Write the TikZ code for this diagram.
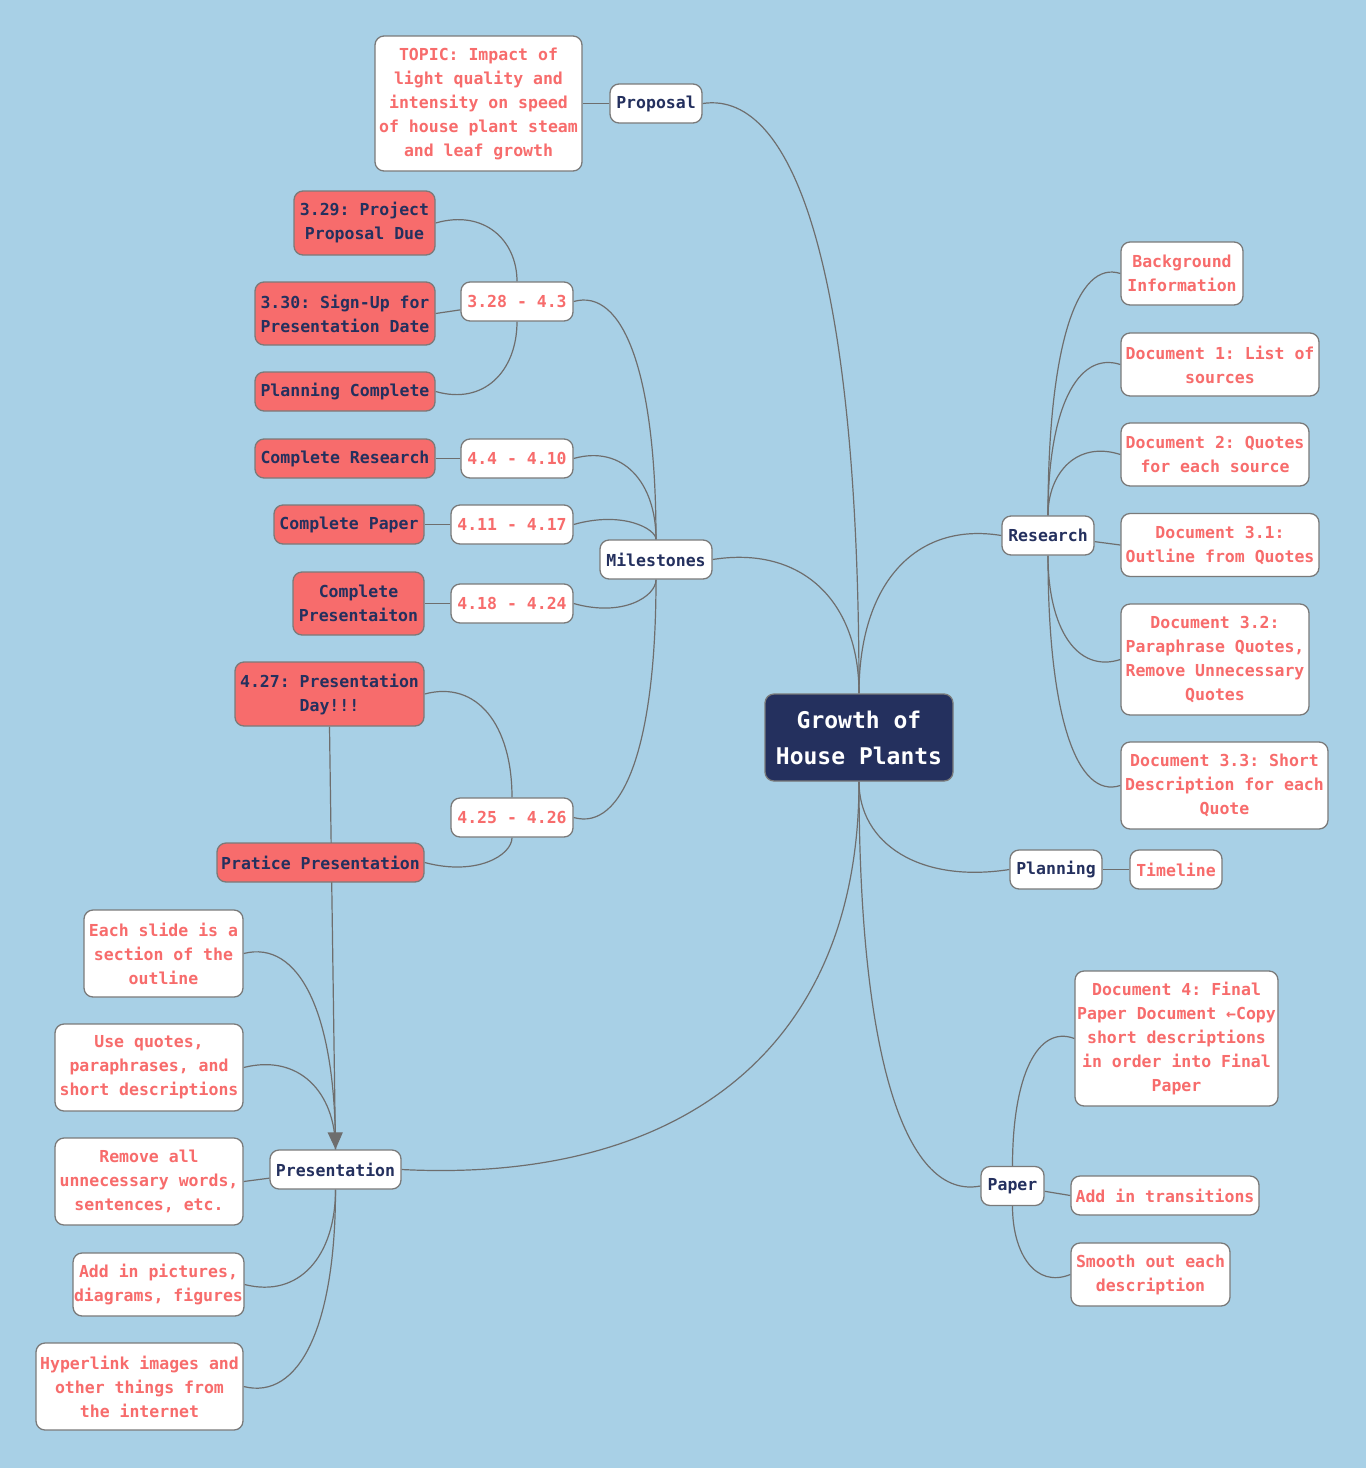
\documentclass[tikz,border=0pt]{standalone}
\usepackage{fontspec}
\setmonofont{DejaVu Sans Mono}
\usetikzlibrary{calc,arrows.meta,backgrounds}
\definecolor{bgc}{HTML}{A8D0E6}
\definecolor{redc}{HTML}{F76C6C}
\definecolor{navy}{HTML}{24305E}
\definecolor{bord}{HTML}{7A7A7A}
\definecolor{lnc}{HTML}{6E6E6E}
\tikzset{
  box/.style={draw=bord, line width=1.3pt, rounded corners=9pt, align=center, inner sep=1pt,
    font=\ttfamily\bfseries\fontsize{16.5}{24}\selectfont},
  wbox/.style={box, fill=white, text=redc},
  lbox/.style={box, fill=white, text=navy},
  rbox/.style={box, fill=redc, text=navy},
  conn/.style={draw=lnc, line width=1.2pt},
  sz/.style 2 args={minimum width=#1pt, minimum height=#2pt}
}
\newcommand\curv[2]{\draw[conn] let \p1=(#1), \p2=(#2), \n1={sign(\y2-\y1)} in
  (\p1) .. controls (\x1,{\y1+0.7*(\y2-\y1)}) and ({\x2+0.6*(\x1-\x2)},{\y2+14pt*\n1}) .. (\p2);}
\begin{document}
\begin{tikzpicture}[x=1pt,y=-1pt]
\useasboundingbox (0,0) rectangle (1366,1468);
% central
\node[box, fill=navy, text=white, font=\ttfamily\bfseries\fontsize{23}{36}\selectfont, sz={188}{87}] (c) at (859,737.5) {Growth of\\House Plants};
% proposal
\node[lbox, sz={92}{39}] (prop) at (656,103.5) {Proposal};
\node[wbox, sz={207}{135}] (topic) at (478.5,103.5) {TOPIC: Impact of\\light quality and\\intensity on speed\\of house plant steam\\and leaf growth};
% milestones
\node[lbox, sz={112}{39}] (ms) at (656,559.5) {Milestones};
\node[wbox, sz={112}{39}] (d1) at (517,301.5) {3.28 - 4.3};
\node[rbox, sz={141}{64}] (p329) at (364.5,223) {3.29: Project\\Proposal Due};
\node[rbox, sz={180}{63}] (p330) at (345,313.5) {3.30: Sign-Up for\\Presentation Date};
\node[rbox, sz={180}{39}] (pc) at (345,391.5) {Planning Complete};
\node[wbox, sz={112}{39}] (d2) at (517,458.5) {4.4 - 4.10};
\node[rbox, sz={180}{39}] (cr) at (345,458.5) {Complete Research};
\node[wbox, sz={122}{39}] (d3) at (512,524.5) {4.11 - 4.17};
\node[rbox, sz={150}{39}] (cp) at (349,524.5) {Complete Paper};
\node[wbox, sz={122}{39}] (d4) at (512,603.5) {4.18 - 4.24};
\node[rbox, sz={131}{63}] (cpr) at (358.5,603.5) {Complete\\Presentaiton};
\node[rbox, sz={189}{64}] (p427) at (329.5,694) {4.27: Presentation\\Day!!!};
\node[wbox, sz={122}{39}] (d5) at (512,817.5) {4.25 - 4.26};
\node[rbox, sz={207}{39}] (prac) at (320.5,862.5) {Pratice Presentation};
% research
\node[lbox, sz={92}{39}] (res) at (1048,535.5) {Research};
\node[wbox, sz={122}{63}] (bg) at (1182,273.5) {Background\\Information};
\node[wbox, sz={198}{63}] (doc1) at (1220,364.5) {Document 1: List of\\sources};
\node[wbox, sz={188}{63}] (doc2) at (1215,454.5) {Document 2: Quotes\\for each source};
\node[wbox, sz={198}{63}] (doc31) at (1220,545) {Document 3.1:\\Outline from Quotes};
\node[wbox, sz={188}{111}] (doc32) at (1215,659.5) {Document 3.2:\\Paraphrase Quotes,\\Remove Unnecessary\\Quotes};
\node[wbox, sz={207}{87}] (doc33) at (1224.5,785.5) {Document 3.3: Short\\Description for each\\Quote};
% planning
\node[lbox, sz={92}{39}] (plan) at (1056,869.5) {Planning};
\node[wbox, sz={92}{39}] (tl) at (1176,869.5) {Timeline};
% paper
\node[lbox, sz={63}{39}] (paper) at (1012.5,1186) {Paper};
\node[wbox, sz={203}{135}] (doc4) at (1176.5,1038.5) {Document 4: Final\\Paper Document ←Copy\\short descriptions\\in order into Final\\Paper};
\node[wbox, sz={188}{39}] (trans) at (1165,1195.5) {Add in transitions};
\node[wbox, sz={159}{63}] (smooth) at (1150.5,1274.5) {Smooth out each\\description};
% presentation
\node[lbox, sz={131}{39}] (pres) at (335.5,1169.5) {Presentation};
\node[wbox, sz={159}{87}] (each) at (163.5,953.5) {Each slide is a\\section of the\\outline};
\node[wbox, sz={188}{87}] (quot) at (149,1067.5) {Use quotes,\\paraphrases, and\\short descriptions};
\node[wbox, sz={188}{87}] (remv) at (149,1181.5) {Remove all\\unnecessary words,\\sentences, etc.};
\node[wbox, sz={169}{63}] (pics) at (158.5,1284.5) {Add in pictures,\\diagrams, figures};
\node[wbox, sz={207}{87}] (hyper) at (139.5,1386.5) {Hyperlink images and\\other things from\\the internet};

\begin{pgfonlayer}{background}
\fill[bgc] (0,0) rectangle (1366,1468);
% main branches
\curv{c.north}{prop.east}
\curv{c.north}{ms.east}
\curv{c.north}{res.west}
\curv{c.south}{plan.west}
\curv{c.south}{paper.west}
\curv{c.south}{pres.east}
% proposal
\draw[conn] (prop) -- (topic.east);
% milestones
\curv{ms.north}{d1.east}
\curv{ms.north}{d2.east}
\curv{ms.north}{d3.east}
\curv{ms.south}{d4.east}
\curv{ms.south}{d5.east}
\curv{d1.north}{p329.east}
\draw[conn] (d1) -- (p330.east);
\curv{d1.south}{pc.east}
\draw[conn] (d2) -- (cr.east);
\draw[conn] (d3) -- (cp.east);
\draw[conn] (d4) -- (cpr.east);
\curv{d5.north}{p427.east}
\curv{d5.south}{prac.east}
% research
\curv{res.north}{bg.west}
\curv{res.north}{doc1.west}
\curv{res.north}{doc2.west}
\draw[conn] (res) -- (doc31.west);
\curv{res.south}{doc32.west}
\curv{res.south}{doc33.west}
% planning
\draw[conn] (plan) -- (tl.west);
% paper
\curv{paper.north}{doc4.west}
\draw[conn] (paper) -- (trans.west);
\curv{paper.south}{smooth.west}
% presentation
\curv{pres.north}{each.east}
\curv{pres.north}{quot.east}
\draw[conn] (pres) -- (remv.east);
\curv{pres.south}{pics.east}
\curv{pres.south}{hyper.east}
% relationship arrow
\draw[conn, -{Triangle[length=17pt,width=15pt]}] (p427.south) -- (pres.north);
\end{pgfonlayer}
\end{tikzpicture}
\end{document}
